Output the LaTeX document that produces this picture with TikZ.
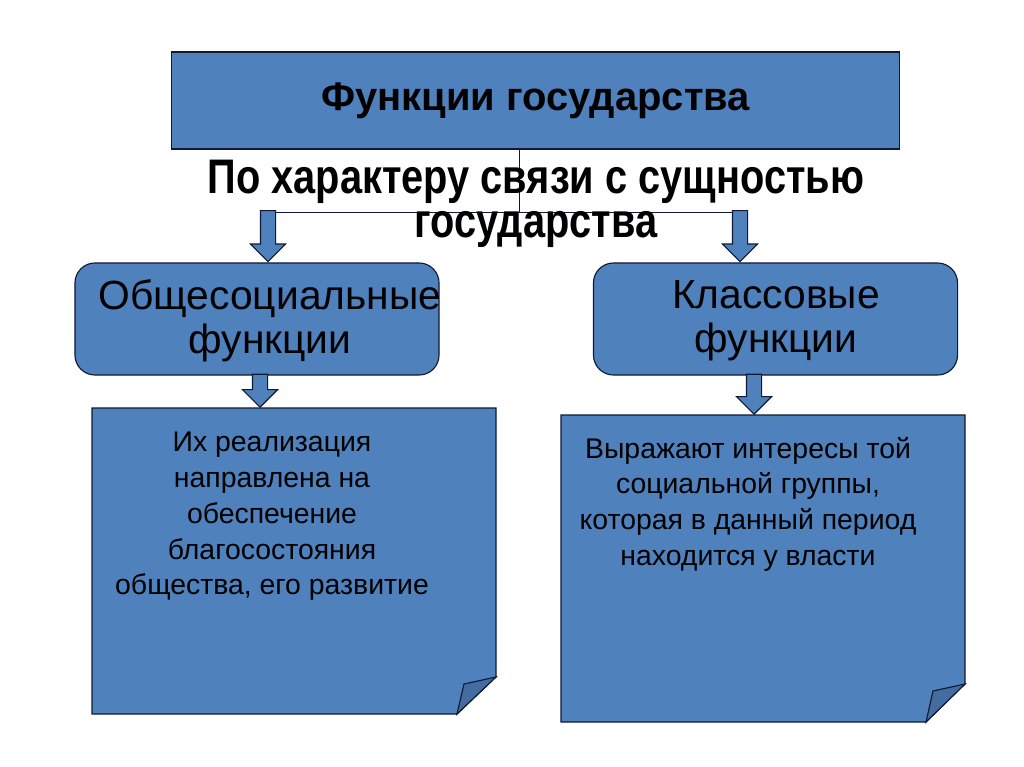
\documentclass[tikz,border=0pt]{standalone}
\usepackage{fontspec}
\setmainfont{Liberation Sans}
\newfontfamily\narrowfont[FakeStretch=0.82]{Liberation Sans}
\usetikzlibrary{shapes.arrows}

\definecolor{boxblue}{RGB}{79,129,189}
\definecolor{foldblue}{RGB}{68,108,160}
\definecolor{edgeblue}{RGB}{15,25,50}

\begin{document}
\begin{tikzpicture}[x=0.025cm, y=-0.025cm,
  downarrow/.style={single arrow, draw=edgeblue, fill=boxblue, shape border rotate=270, inner sep=0.175cm, minimum width=0.85cm, single arrow head extend=0.25cm, line width=0.8pt},
  notebox/.style={draw=edgeblue, fill=boxblue, line width=0.8pt}]
  \useasboundingbox (0,0) rectangle (1024,767);

  % Define the top box and the split line
  \node (title) [rectangle, draw=edgeblue, fill=boxblue, line width=0.8pt, minimum width=18.175cm, minimum height=2.425cm, font=\bfseries\fontsize{28.4}{30}\selectfont] at (535.5,100.5) {Функции государства};
  \coordinate (split) at (519,212);
  \coordinate (leftsplit) at (268,212);
  \coordinate (rightsplit) at (740,212);
  \draw[edgeblue, line width=0.6pt] (title.south -| split) -- (split);
  \draw[edgeblue, line width=0.6pt] (leftsplit) -- (rightsplit);

  \node (basis) [align=center, font=\narrowfont\bfseries\fontsize{34.5}{31.5}\selectfont] at (536,204) {По характеру связи с сущностью\\государства};

  % Define the two kinds of functions
  \node (social) [rectangle, rounded corners=0.5cm, draw=edgeblue, fill=boxblue, line width=0.8pt, minimum width=9.1cm, minimum height=2.8cm] at (257,319) {};
  \node (class) [rectangle, rounded corners=0.5cm, draw=edgeblue, fill=boxblue, line width=0.8pt, minimum width=9.1cm, minimum height=2.8cm] at (775.5,319) {};
  \node (socialtext) [align=center, font=\fontsize{29}{31.5}\selectfont] at (270,321) {Общесоциальные\\функции};
  \node (classtext) [align=center, font=\fontsize{29}{31.5}\selectfont] at (776,321) {Классовые\\функции};

  % Arrows from the split line to the boxes
  \node (leftdown) [downarrow, minimum height=1.275cm, anchor=tip] at (social.north -| leftsplit) {};
  \node (rightdown) [downarrow, minimum height=1.275cm, anchor=tip] at (class.north -| rightsplit) {};

  % Notes with folded corners
  \draw[notebox] (92,408) -- (496,408) -- (496,677) -- (457,714) -- (92,714) -- cycle;
  \draw[notebox, fill=foldblue] (496,677) -- (464,684) -- (457,714) -- cycle;
  \coordinate (leftnote) at (260,408);
  \draw[notebox] (561,415) -- (965,415) -- (965,684) -- (926,722) -- (561,722) -- cycle;
  \draw[notebox, fill=foldblue] (965,684) -- (933,691) -- (926,722) -- cycle;
  \coordinate (rightnote) at (754,415);

  \node (lefttext) [align=center, anchor=north, font=\fontsize{20.2}{25.5}\selectfont] at (272,427) {Их реализация\\направлена на\\обеспечение\\благосостояния\\общества, его развитие};
  \node (righttext) [align=center, anchor=north, font=\fontsize{20.2}{25.5}\selectfont] at (748,432) {Выражают интересы той\\социальной группы,\\которая в данный период\\находится у власти};

  % Arrows from the boxes to the notes
  \node (leftnotedown) [downarrow, minimum height=0.825cm, anchor=tip] at (leftnote) {};
  \node (rightnotedown) [downarrow, minimum height=1cm, anchor=tip] at (rightnote) {};

\end{tikzpicture}
\end{document}
